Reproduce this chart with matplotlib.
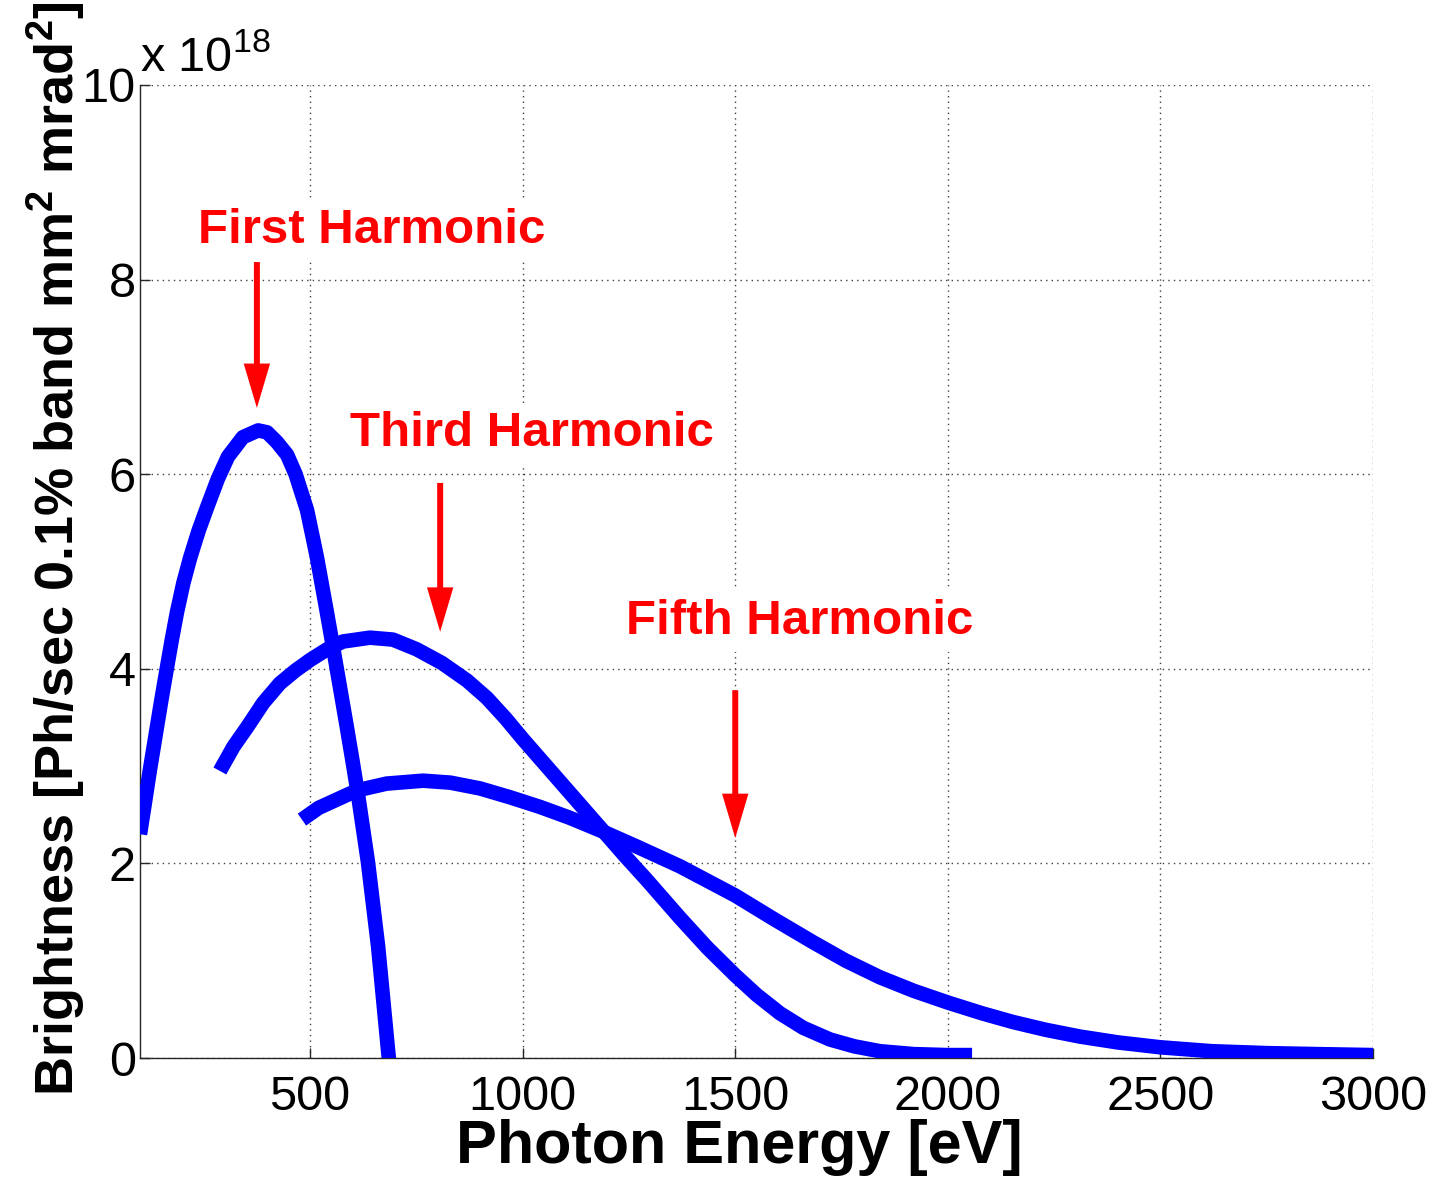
import numpy as np
import matplotlib
matplotlib.use("Agg")
import matplotlib.pyplot as plt

plt.rcParams['font.family'] = ['Liberation Sans', 'DejaVu Sans']
plt.rcParams['mathtext.fontset'] = 'custom'
plt.rcParams['mathtext.rm'] = 'Liberation Sans'
plt.rcParams['mathtext.bf'] = 'Liberation Sans:bold'

# undulator brightness per harmonic, in units of 1e18 Ph/sec/0.1%bw/mm^2/mrad^2
first_E = [100, 109, 123, 138, 150, 163, 175, 187, 202, 218, 238, 258, 283,
           307, 342, 378, 399, 422, 446, 466, 493, 516, 538, 555, 570, 585,
           600, 613, 636, 660, 683, 692]
first_B = [2.3, 2.55, 2.95, 3.35, 3.67, 4.0, 4.3, 4.58, 4.88, 5.14, 5.42, 5.66,
           5.95, 6.18, 6.38, 6.45, 6.43, 6.33, 6.2, 6.0, 5.63, 5.15, 4.62, 4.2,
           3.82, 3.44, 3.05, 2.7, 2.02, 1.15, 0.1, -0.3]

third_E = [288, 293, 320, 352, 390, 429, 465, 500, 540, 577, 641, 695, 751,
           810, 869, 916, 960, 1000, 1060, 1120, 1182, 1240, 1292, 1330, 1370,
           1435, 1500, 1550, 1605, 1660, 1723, 1780, 1840, 1920, 1998, 2057]
third_B = [2.95, 2.99, 3.2, 3.4, 3.65, 3.85, 3.98, 4.09, 4.2, 4.28, 4.32, 4.3,
           4.2, 4.06, 3.88, 3.7, 3.49, 3.28, 2.98, 2.68, 2.37, 2.08, 1.83, 1.64,
           1.44, 1.13, 0.85, 0.65, 0.46, 0.31, 0.19, 0.12, 0.07, 0.04, 0.03,
           0.03]

fifth_E = [481, 520, 550, 610, 680, 766, 830, 900, 970, 1041, 1110, 1182,
           1270, 1370, 1435, 1500, 1590, 1683, 1760, 1840, 1920, 2000, 2080,
           2153, 2230, 2311, 2400, 2500, 2620, 2751, 2870, 3000]
fifth_B = [2.45, 2.57, 2.63, 2.75, 2.82, 2.85, 2.83, 2.77, 2.68, 2.58, 2.47,
           2.34, 2.17, 1.97, 1.82, 1.67, 1.43, 1.19, 1.0, 0.83, 0.69, 0.57,
           0.46, 0.37, 0.29, 0.22, 0.16, 0.11, 0.07, 0.05, 0.04, 0.03]

x_ticks = [500, 1000, 1500, 2000, 2500, 3000]
y_ticks = [0, 2, 4, 6, 8, 10]

fig = plt.figure(figsize=(14.34, 11.77), dpi=100)
ax = fig.add_axes([0.0976, 0.1011, 0.8599, 0.8267])

for E, B in [(first_E, first_B), (third_E, third_B), (fifth_E, fifth_B)]:
    ax.plot(E, B, color=(0, 0, 1), lw=10.5, solid_capstyle='butt',
            solid_joinstyle='round', zorder=3)

ax.set_xlim(100, 3000)
ax.set_ylim(0, 10)
ax.set_xticks(x_ticks)
ax.set_yticks(y_ticks)
ax.grid(True, color='0.25', linestyle=(0, (1, 3)), lw=1.0)
ax.set_axisbelow(True)

for side in ['top', 'right']:
    ax.spines[side].set_visible(False)
for side in ['left', 'bottom']:
    ax.spines[side].set_linewidth(1.0)
    ax.spines[side].set_color('0.15')
ax.tick_params(direction='in', length=7, width=1.0, labelsize=35,
               color='0.15')
ax.tick_params(axis='y', pad=3)
ax.tick_params(axis='x', pad=12)

ax.set_xlabel('Photon Energy [eV]', fontsize=44, fontweight='bold')
ax.xaxis.set_label_coords(0.486, -0.063)
ax.set_ylabel(r'Brightness [Ph/sec 0.1% band mm$^\mathbf{2}$ mrad$^\mathbf{2}$]',
              fontsize=39, fontweight='bold')
ax.yaxis.set_label_coords(-0.043, 0.523)
fig.text(0.0976, 0.939, r'x 10$^{18}$', fontsize=35, ha='left', va='baseline')

labels = [('First Harmonic', 236, 8.38, 375, 8.18, 6.68),
          ('Third Harmonic', 594, 6.29, 806, 5.91, 4.38),
          ('Fifth Harmonic', 1243, 4.36, 1500, 3.78, 2.26)]
for txt, tx, ty, ax_x, y0, y1 in labels:
    ax.text(tx, ty, txt, color='red', fontsize=35.5, fontweight='bold',
            ha='left', va='baseline', zorder=4,
            bbox=dict(facecolor='white', edgecolor='none', pad=6))
    ax.annotate('', xy=(ax_x, y1), xytext=(ax_x, y0), zorder=4,
                arrowprops=dict(arrowstyle='simple,head_length=32,head_width=19,tail_width=4.3',
                                mutation_scale=1, fc='red', ec='none', lw=0,
                                shrinkA=0, shrinkB=0))

fig.savefig('out.png', dpi=100)
